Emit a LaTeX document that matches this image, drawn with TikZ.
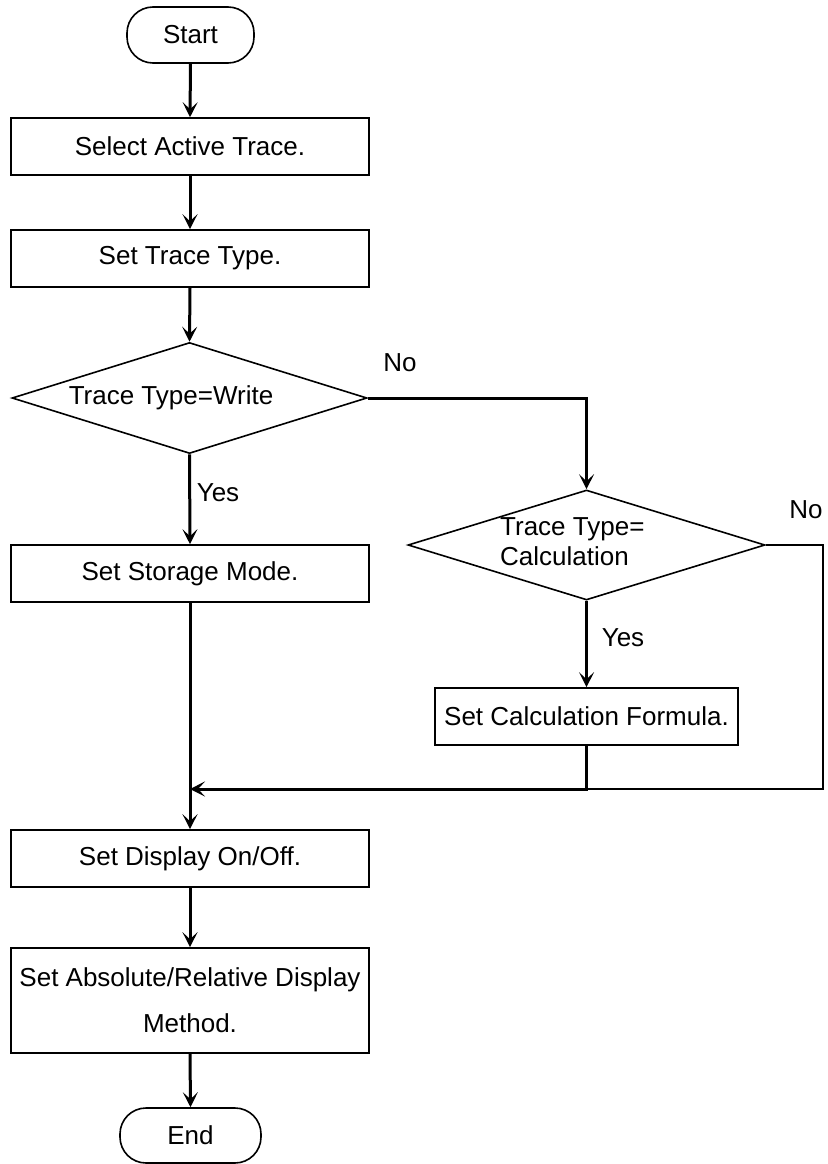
\documentclass[tikz,border=0pt]{standalone}
\usepackage{fontspec}
\setmainfont{Liberation Sans}
\usetikzlibrary{shapes.geometric,arrows.meta}
\begin{document}
\begin{tikzpicture}[x=1pt,y=-1pt,
  every node/.style={font=\fontsize{26}{30}\selectfont, inner sep=0pt},
  procbox/.style={draw, line width=1.6pt, rectangle},
  termbox/.style={draw, line width=1.6pt, rectangle, rounded corners=26pt},
  decbox/.style={draw, line width=1.6pt, diamond},
  flow/.style={line width=3pt, -{Stealth[length=15pt,width=15pt,inset=7pt]}},
  flowline/.style={line width=3pt},
  thinline/.style={line width=1.6pt},
  lbl/.style={anchor=center}]
\useasboundingbox (0,0) rectangle (827,1164);

\node[termbox, minimum width=127pt, minimum height=56pt] (start) at (190.5,35) {Start};
\node[procbox, minimum width=358pt, minimum height=57pt] (select) at (190,146.5) {Select Active Trace.};
\node[procbox, minimum width=358pt, minimum height=57pt] (settype) at (190,258.5) {Set Trace Type.};
\node[decbox, minimum width=355pt, minimum height=111pt] (d1) at (189.5,398) {};
\node[lbl] (d1t) at (171,398) {Trace Type=Write};
\node[decbox, minimum width=357pt, minimum height=110pt] (d2) at (586.5,545) {};
\node[anchor=west, align=left] (d2t) at (500,542) {Trace Type=\\Calculation};
\node[procbox, minimum width=358pt, minimum height=57pt] (storage) at (190,573.5) {Set Storage Mode.};
\node[procbox, minimum width=303pt, minimum height=57pt] (calc) at (586.5,716.5) {Set Calculation Formula.};
\node[procbox, minimum width=358pt, minimum height=57pt] (display) at (190,858.5) {Set Display On/Off.};
\node[procbox, minimum width=358pt, minimum height=105pt, align=center, font=\fontsize{26}{46}\selectfont] (abs) at (190,1000.5) {Set Absolute/Relative Display\\Method.};
\node[termbox, minimum width=141pt, minimum height=55pt] (end) at (190.5,1135.5) {End};

\node[lbl] (no1) at (400,363) {No};
\node[lbl] (yes1) at (218,493) {Yes};
\node[lbl] (no2) at (806,510) {No};
\node[lbl] (yes2) at (623,638) {Yes};

\coordinate (merge) at (190,789);
\coordinate (r1) at (823,545);
\coordinate (r2) at (823,789);
\coordinate (cj) at (calc.south |- merge);

\draw[flow] (start.south) -- (select.north);
\draw[flow] (select.south) -- (settype.north);
\draw[flow] (settype.south) -- (d1.north);
\draw[flow] (d1.east) -- (d1.east -| d2.north) -- (d2.north);
\draw[flow] (d1.south) -- (storage.north);
\draw[flow] (d2.south) -- (calc.north);
\draw[thinline] (d2.east) -- (r1) -- (r2) -- (cj);
\draw[flow] (calc.south) -- (cj) -- (merge);
\draw[flow] (storage.south) -- (display.north);
\draw[flow] (display.south) -- (abs.north);
\draw[flow] (abs.south) -- (end.north);
\end{tikzpicture}
\end{document}
